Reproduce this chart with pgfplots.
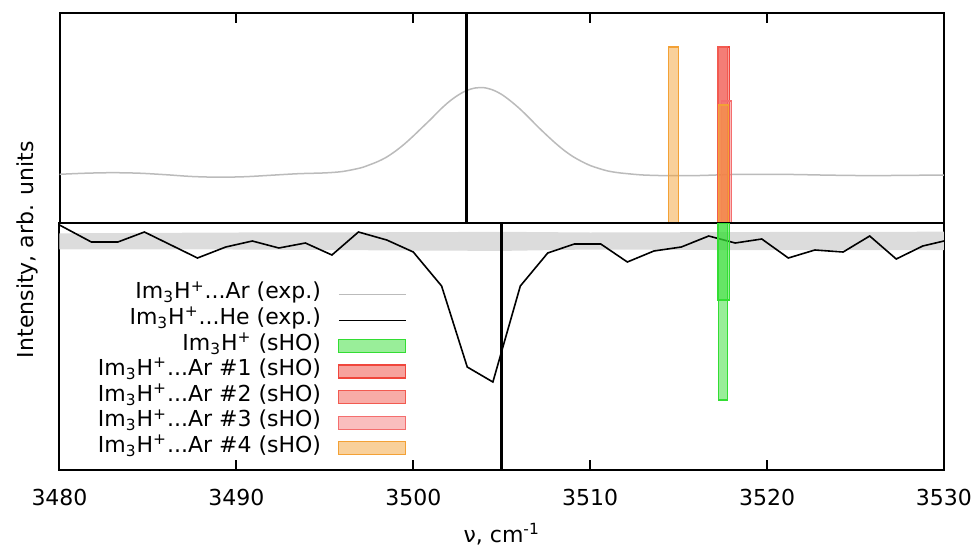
\documentclass[border=0pt]{standalone}
\usepackage{fontspec}
\setmainfont{DejaVu Sans}
\usepackage{pgfplots}
\pgfplotsset{compat=1.18}
\definecolor{argrey}{RGB}{187,187,187}
\definecolor{bandgrey}{RGB}{220,220,220}
\definecolor{cgreen}{RGB}{51,221,51}
\definecolor{cred1}{RGB}{240,70,60}
\definecolor{cred2}{RGB}{242,90,80}
\definecolor{cred3}{RGB}{244,110,110}
\definecolor{corange}{RGB}{243,161,53}
\pgfplotsset{
  mylineleg/.style={legend image code/.code={\draw[##1] (0bp,0bp) -- (33.5bp,0bp);}},
  myarealeg/.style={legend image code/.code={\draw[##1] (0bp,-3.25bp) rectangle (33.5bp,3.25bp);}},
  common/.style={
    scale only axis, width=442.25bp,
    xmin=3480, xmax=3530,
    xtick={3480,3490,...,3530},
    ytick=\empty,
    tick align=inside,
    major tick length=5bp,
    every tick/.style={black, line width=1bp},
    axis line style={line width=1bp},
    font=\fontsize{11bp}{13.2bp}\selectfont,
    /pgf/number format/assume math mode=true,
    /pgf/number format/set thousands separator={},
    clip=true,
  }
}
\begin{document}
\begin{tikzpicture}
\useasboundingbox (-29.75bp,-161bp) rectangle (458.25bp,111.5bp);
% ---------- top panel (Ar) ----------
\begin{axis}[common, height=105bp, at={(0,0)}, anchor=south west,
  ymin=0, ymax=210, xtick pos=upper, xticklabels={}]
\addplot[argrey, line width=0.75bp, smooth] coordinates {
(3480.0,48.7) (3481.5,49.8) (3483.0,50.3) (3484.5,49.8) (3486.0,48.3) (3487.5,46.5)
(3489.0,45.8) (3490.5,46.3) (3492.0,47.8) (3493.5,49.3) (3495.0,50.1) (3496.0,51.5)
(3497.0,55) (3497.5,58) (3498.0,61.5) (3498.5,66) (3499.0,72) (3499.5,79)
(3500.0,87) (3500.5,95.5) (3501.0,104) (3501.5,113) (3502.0,121) (3502.5,127.5)
(3503.0,132.4) (3503.5,135) (3504.0,135.3) (3504.5,133) (3505.0,128.5) (3505.5,122)
(3506.0,114.5) (3506.5,106) (3507.0,97) (3507.5,88.5) (3508.0,80.4) (3508.5,73)
(3509.0,66.7) (3509.5,61.7) (3510.0,57.5) (3510.5,54.5) (3511.0,52) (3511.5,50.5)
(3512.0,49.5) (3513.0,48) (3514.5,47.3) (3516.2,47.5) (3518.0,48.5) (3519.6,48.7)
(3521.5,48.5) (3523.0,48) (3525.0,47.5) (3527.0,47.5) (3530.0,48)};
\addplot[black, line width=1.3bp] coordinates {(3503,0) (3503,210)};
\addplot[ybar, bar width=0.65, bar shift=0pt, fill=cred1, fill opacity=0.5, draw=cred1, line width=0.6bp] coordinates {(3517.53,176)};
\addplot[ybar, bar width=0.55, bar shift=0pt, fill=cred2, fill opacity=0.5, draw=cred2, line width=0.6bp] coordinates {(3517.50,176)};
\addplot[ybar, bar width=0.6, bar shift=0pt, fill=cred3, fill opacity=0.45, draw=cred3, line width=0.6bp] coordinates {(3517.70,122)};
\addplot[ybar, bar width=0.56, bar shift=0pt, fill=corange, fill opacity=0.5, draw=corange, line width=0.6bp] coordinates {(3514.70,176) (3517.52,118)};
\end{axis}
% ---------- bottom panel (He) ----------
\begin{axis}[common, height=123.5bp, at={(0,0)}, anchor=north west,
  ymin=0, ymax=247, y dir=reverse, xtick pos=lower,
  xticklabel style={anchor=base, yshift=-17.5bp},
  xlabel={ν, cm\textsuperscript{-1}},
  xlabel style={at={(axis description cs:0.5,0)}, anchor=base, yshift=-36bp},
  ylabel={Intensity, arb. units},
  ylabel style={at={(axis description cs:-0.0296,0.892)}, anchor=base, rotate=0},
  legend style={at={(axis description cs:0.3929,0.763)}, anchor=north east,
    draw=none, fill=none, inner sep=0pt, row sep=0pt, column sep=8.5bp,
    nodes={inner sep=0pt, text height=8.5bp, text depth=4.3bp},
    font=\fontsize{11bp}{13.2bp}\selectfont},
  legend cell align=right, legend plot pos=right]
\addlegendimage{mylineleg, argrey, line width=0.75bp}
\addlegendentry{Im\textsubscript{3}H\textsuperscript{+}...Ar (exp.)}
\addlegendimage{mylineleg, black, line width=0.8bp}
\addlegendentry{Im\textsubscript{3}H\textsuperscript{+}...He (exp.)}
\addlegendimage{myarealeg, fill=cgreen, fill opacity=0.5, draw=cgreen, line width=0.6bp}
\addlegendentry{Im\textsubscript{3}H\textsuperscript{+} (sHO)}
\addlegendimage{myarealeg, fill=cred1, fill opacity=0.5, draw=cred1, line width=0.6bp}
\addlegendentry{Im\textsubscript{3}H\textsuperscript{+}...Ar \#1 (sHO)}
\addlegendimage{myarealeg, fill=cred2, fill opacity=0.5, draw=cred2, line width=0.6bp}
\addlegendentry{Im\textsubscript{3}H\textsuperscript{+}...Ar \#2 (sHO)}
\addlegendimage{myarealeg, fill=cred3, fill opacity=0.45, draw=cred3, line width=0.6bp}
\addlegendentry{Im\textsubscript{3}H\textsuperscript{+}...Ar \#3 (sHO)}
\addlegendimage{myarealeg, fill=corange, fill opacity=0.5, draw=corange, line width=0.6bp}
\addlegendentry{Im\textsubscript{3}H\textsuperscript{+}...Ar \#4 (sHO)}
\addplot[forget plot, fill=bandgrey, draw=none] coordinates {
(3480,10.3) (3490,9.5) (3500,9.2) (3505,8.8) (3510,9.5) (3520,9.0) (3530,8.7)
(3530,27) (3520,27.2) (3510,26.5) (3505,27.9) (3500,27.5) (3490,26.5) (3480,26.3)} --cycle;
\addplot[forget plot, black, line width=0.8bp] coordinates {
(3480.0,2) (3481.8,19) (3483.3,19) (3484.8,9) (3486.3,22) (3487.8,35) (3489.4,24)
(3490.9,18) (3492.4,25) (3493.9,20) (3495.4,32) (3496.9,9) (3498.5,17) (3500.0,29)
(3501.6,63) (3503.05,144) (3504.5,159) (3506.05,63) (3507.6,30) (3509.1,21)
(3510.6,21) (3512.1,39) (3513.6,28) (3515.15,24) (3516.7,13) (3518.2,20) (3519.7,16)
(3521.2,35) (3522.7,27) (3524.3,29) (3525.8,13) (3527.3,36) (3528.8,23) (3530,18)};
\addplot[forget plot, black, line width=1.3bp] coordinates {(3505,0) (3505,247)};
\addplot[forget plot, ybar, bar width=0.68, bar shift=0pt, fill=cgreen, fill opacity=0.5, draw=cgreen, line width=0.6bp] coordinates {(3517.53,77)};
\addplot[forget plot, ybar, bar width=0.5, bar shift=0pt, fill=cgreen, fill opacity=0.5, draw=cgreen, line width=0.6bp] coordinates {(3517.50,177)};
\end{axis}
\end{tikzpicture}
\end{document}
